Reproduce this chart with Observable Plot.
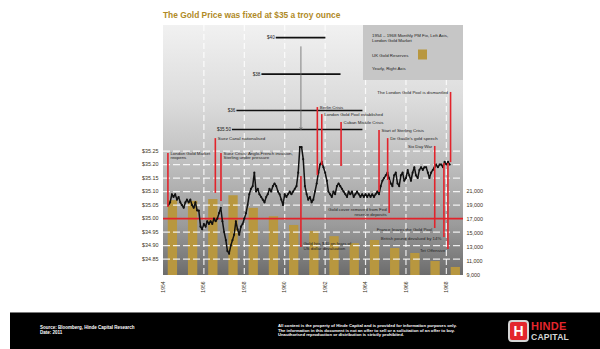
<!DOCTYPE html>
<html>
<head>
<meta charset="utf-8">
<script src="https://cdn.jsdelivr.net/npm/d3@7"></script>
<script src="https://cdn.jsdelivr.net/npm/@observablehq/plot@0.6"></script>
<style>
  body { margin: 0; background: #fff; font-family: "Liberation Sans", Arial, sans-serif; }
  #wrap { position: relative; width: 600px; height: 349px; overflow: hidden; }
  #title { position: absolute; left: 163px; top: 10px; font-size: 8.4px; font-weight: bold; color: #b08a26; white-space: nowrap; }
  #chart { position: absolute; left: 0; top: 0; }
  #footer { position: absolute; left: 10px; top: 312px; width: 590px; height: 37px; background: #000; border-top: 1px solid #7a7a7a; color: #fff; }
  #footer .src { position: absolute; left: 30px; top: 12px; font-size: 4.5px; line-height: 5px; font-weight: bold; }
  #footer .legal { position: absolute; left: 268px; top: 11px; width: 215px; font-size: 4.2px; line-height: 4.7px; font-weight: bold; }
  #footer .icon { position: absolute; left: 498px; top: 7px; width: 17px; height: 18px; background: #e3262d; border: 2px solid #d4d4d4; border-radius: 4px; color: #fff; font-weight: bold; font-size: 14px; line-height: 18px; text-align: center; }
  #footer .hinde { position: absolute; left: 521px; top: 7px; font-size: 11px; font-weight: bold; color: #e3262d; letter-spacing: 0.3px; }
  #footer .capital { position: absolute; left: 521px; top: 19px; font-size: 8.6px; font-weight: bold; color: #d6d6d6; letter-spacing: 0.2px; }
</style>
</head>
<body>
<div id="wrap">
  <div id="chart"></div>
  <div id="title">The Gold Price was fixed at $35 a troy ounce</div>
  <div id="footer">
    <div class="src">Source: Bloomberg, Hinde Capital Research<br>Date: 2011</div>
    <div class="legal">All content is the property of Hinde Capital and is provided for information purposes only.<br>The information in this document is not an offer to sell or a solicitation of an offer to buy.<br>Unauthorised reproduction or distribution is strictly prohibited.</div>
    <div class="icon">H</div>
    <div class="hinde">HINDE</div>
    <div class="capital">CAPITAL</div>
  </div>
</div>
<script>
// London PM gold fix, monthly, from the reopening of the market (April 1954) to March 1968
const fixStart = "1954-04-01";
const fixPrices = [
  /* 1954 */ 35.05, 35.06, 35.09, 35.08, 35.09, 35.07, 35.08, 35.06, 35.05,
  /* 1955 */ 35.04, 35.06, 35.07, 35.06, 35.07, 35.05, 35.04, 35.06, 35.03, 35.03, 34.97, 34.96,
  /* 1956 */ 34.98, 34.97, 34.99, 34.98, 34.99, 34.98, 35.00, 34.99, 35.00, 35.02, 35.04, 34.99,
  /* 1957 */ 34.95, 34.92, 34.88, 34.87, 34.90, 34.92, 34.94, 34.99, 34.96, 34.94, 34.97, 34.98,
  /* 1958 */ 35.00, 35.02, 35.05, 35.09, 35.11, 35.12, 35.17, 35.10, 35.11, 35.09, 35.08, 35.07,
  /* 1959 */ 35.06, 35.08, 35.09, 35.11, 35.10, 35.12, 35.13, 35.12, 35.10, 35.09, 35.07, 35.05,
  /* 1960 */ 35.09, 35.08, 35.09, 35.10, 35.09, 35.10, 35.11, 35.12, 35.17, 40.60, 35.45, 35.22,
  /* 1961 */ 35.12, 35.09, 35.07, 35.08, 35.06, 35.07, 35.10, 35.13, 35.17, 35.20, 35.21, 35.19,
  /* 1962 */ 35.17, 35.14, 35.10, 35.09, 35.08, 35.10, 35.09, 35.12, 35.13, 35.12, 35.11, 35.10,
  /* 1963 */ 35.09, 35.08, 35.10, 35.09, 35.10, 35.08, 35.09, 35.10, 35.09, 35.08, 35.09, 35.08,
  /* 1964 */ 35.09, 35.08, 35.09, 35.08, 35.09, 35.08, 35.09, 35.10, 35.09, 35.12, 35.14, 35.15,
  /* 1965 */ 35.16, 35.17, 35.15, 35.13, 35.12, 35.16, 35.17, 35.13, 35.12, 35.16, 35.17, 35.14,
  /* 1966 */ 35.15, 35.18, 35.16, 35.14, 35.17, 35.19, 35.16, 35.15, 35.18, 35.19, 35.18, 35.19,
  /* 1967 */ 35.19, 35.17, 35.15, 35.17, 35.18, 35.19, 35.20, 35.19, 35.20, 35.20, 35.19, 35.21,
  /* 1968 */ 35.20, 35.21, 35.20
];

// UK gold reserves, yearly (right axis)
const reserveYears = [1954, 1955, 1956, 1957, 1958, 1959, 1960, 1961, 1962, 1963, 1964, 1965, 1966, 1967, 1968];
const reserveValues = [19700, 19600, 19850, 20400, 18600, 17400, 16150, 15300, 14550, 13550, 14000, 12850, 12150, 11000, 10150];

// Axis ticks
const priceTicks = [34.85, 34.90, 34.95, 35.00, 35.05, 35.10, 35.15, 35.20, 35.25];
const reserveTicks = [9000, 11000, 13000, 15000, 17000, 19000, 21000];
const yearTicks = [1954, 1956, 1958, 1960, 1962, 1964, 1966, 1968];
const officialPrice = 35;

// Where the October 1960 spike went, on a compressed scale above the chart
const spikeDate = "1960-10-20";
const spikeLevels = [
  {label: "$40", level: 40, from: "1959-08-01", to: "1962-01-15"},
  {label: "$38", level: 38, from: "1958-11-15", to: "1962-10-15"},
  {label: "$36", level: 36, from: "1957-08-20", to: "1963-11-15"},
  {label: "$35.50", level: 35.5, from: "1957-06-01", to: "1963-11-15"}
];
const spikeArrow = {from: 39.5, to: 35.5};

// Events: leader runs between two price levels, label sits at one end
const events = [
  {date: "1954-03-22", text: "London Gold Market\nreopens", top: 35.241, bottom: 35.041, at: "top", align: "start"},
  {date: "1956-07-26", text: "Suez Canal nationalised", top: 35.296, bottom: 35.093, at: "top", align: "start"},
  {date: "1956-11-05", text: "Suez Crisis: Anglo-French invasion,\nSterling under pressure", top: 35.241, bottom: 35.063, at: "top", align: "start"},
  {date: "1960-10-20", text: "Gold hits $40 on fears of\nUS dollar devaluation", top: 35.156, bottom: 34.893, at: "bottom", align: "start"},
  {date: "1961-08-13", text: "Berlin Crisis", top: 35.411, bottom: 35.159, at: "top", align: "start"},
  {date: "1961-11-01", text: "London Gold Pool established", top: 35.385, bottom: 35.196, at: "top", align: "start"},
  {date: "1962-10-16", text: "Cuban Missile Crisis", top: 35.356, bottom: 35.193, at: "top", align: "start"},
  {date: "1964-09-01", text: "Start of Sterling Crisis", top: 35.326, bottom: 35.096, at: "top", align: "start"},
  {date: "1965-02-04", text: "De Gaulle's gold speech", top: 35.296, bottom: 35.141, at: "top", align: "start"},
  {date: "1965-03-03", text: "Gold cover removed from Fed\nreserve deposits", top: 35.141, bottom: 35.019, at: "bottom", align: "end"},
  {date: "1967-06-05", text: "Six Day War", top: 35.267, bottom: 35.204, at: "top", align: "end"},
  {date: "1967-06-05", text: "France leaves the Gold Pool", top: 35.204, bottom: 34.963, at: "bottom", align: "end"},
  {date: "1967-11-18", text: "British pound devalued by 14%", top: 35.204, bottom: 34.930, at: "bottom", align: "end"},
  {date: "1968-01-30", text: "Tet Offensive", top: 35.204, bottom: 34.885, at: "bottom", align: "end"},
  {date: "1968-03-17", text: "The London Gold Pool is dismantled", top: 35.467, bottom: 35.207, at: "top", align: "end"}
];

const gold = "#b8973f";
const red = "#e2232b";
const ink = "#222";
const font = "Liberation Sans, Arial, sans-serif";

const utc = (s) => new Date(s + "T00:00:00Z");
const yDomain = [34.789, 35.715];
const xDomain = [utc("1954-01-01"), utc("1968-11-06")];
const priceCeiling = 35.265; // the line is cut off where it leaves the visible price range

const fixSeries = fixPrices.map((p, i) => ({date: d3.utcMonth.offset(utc(fixStart), i), price: p}));
const reserves = reserveYears.map((year, i) => ({year, value: reserveValues[i]}));
const reserveToPrice = d3.scaleLinear().domain([9000, 21000]).range([yDomain[0], 35.1]);
const spikeScale = d3.scaleLinear().domain([35.5, 36, 40]).range([35.33, 35.40, 35.67]);
const yearDate = (y) => new Date(Date.UTC(y, 0, 1));
const clampY = (d) => Math.min(d.price, priceCeiling);

function background(index, scales, values, dims) {
  const g = d3.create("svg:g");
  const grad = g.append("defs").append("linearGradient")
    .attr("id", "plotbg").attr("x1", 0).attr("y1", 0).attr("x2", 0).attr("y2", 1);
  [[0, "#f1f1f1"], [0.3, "#dcdcdc"], [0.55, "#bfbfbf"], [0.8, "#9b9b9b"], [1, "#6c6c6c"]]
    .forEach(([o, c]) => grad.append("stop").attr("offset", o).attr("stop-color", c));
  g.append("rect")
    .attr("x", dims.marginLeft).attr("y", dims.marginTop)
    .attr("width", dims.width - dims.marginLeft - dims.marginRight)
    .attr("height", dims.height - dims.marginTop - dims.marginBottom)
    .attr("fill", "url(#plotbg)");
  return g.node();
}

function legendBox(index, scales, values, dims) {
  const g = d3.create("svg:g")
    .attr("font-family", font).attr("font-size", 4.4).attr("fill", ink).attr("text-anchor", "start");
  const w = 100, h = 55;
  const x0 = dims.width - dims.marginRight - w, y0 = dims.marginTop;
  g.append("rect").attr("x", x0).attr("y", y0).attr("width", w).attr("height", h).attr("fill", "#c6c6c6");
  const tx = x0 + 9;
  g.append("text").attr("x", tx).attr("y", y0 + 11.5).text("1954 \u2013 1968 Monthly PM Fix, Left Axis,");
  g.append("text").attr("x", tx).attr("y", y0 + 16.5).text("London Gold Market");
  g.append("text").attr("x", tx).attr("y", y0 + 32).text("UK Gold Reserves");
  g.append("rect").attr("x", x0 + 55).attr("y", y0 + 24.5).attr("width", 9).attr("height", 10).attr("fill", gold);
  g.append("text").attr("x", tx).attr("y", y0 + 44.5).text("Yearly, Right Axis");
  return g.node();
}

const labelMarks = [];
for (const at of ["top", "bottom"]) {
  for (const align of ["start", "end"]) {
    const subset = events.filter(e => e.at === at && e.align === align);
    if (!subset.length) continue;
    labelMarks.push(Plot.text(subset, {
      x: d => utc(d.date),
      y: d => d[at],
      text: "text",
      textAnchor: align,
      lineAnchor: at === "top" ? "top" : "bottom",
      dy: at === "top" ? -2.4 : 2.4,
      dx: align === "start" ? 2.5 : -2.5,
      lineHeight: 1.12,
      fontSize: 4.4,
      fill: ink
    }));
  }
}

const chart = Plot.plot({
  width: 600,
  height: 312,
  marginLeft: 163,
  marginRight: 137,
  marginTop: 25,
  marginBottom: 37,
  style: {fontFamily: font, background: "transparent", overflow: "visible"},
  x: {type: "utc", domain: xDomain},
  y: {domain: yDomain},
  marks: [
    background,
    Plot.ruleX(yearTicks.slice(1), {x: yearDate, stroke: "#fff", strokeOpacity: 0.85, strokeWidth: 1.2, strokeDasharray: "6,3"}),
    Plot.rect(reserves, {
      x1: d => new Date(Date.UTC(d.year, 2, 28)),
      x2: d => new Date(Date.UTC(d.year, 8, 12)),
      y1: yDomain[0],
      y2: d => reserveToPrice(d.value),
      fill: gold
    }),
    Plot.ruleY(priceTicks.filter(t => t !== officialPrice), {stroke: "#fff", strokeOpacity: 0.85, strokeWidth: 1.2, strokeDasharray: "7,3"}),
    Plot.ruleY([officialPrice], {stroke: red, strokeWidth: 1.8}),
    Plot.line(fixSeries, {x: "date", y: clampY, stroke: "#111", strokeWidth: 1.5}),
    Plot.dot(fixSeries, {x: "date", y: clampY, r: 1.05, fill: "#111"}),
    Plot.ruleY(spikeLevels, {y: d => spikeScale(d.level), x1: d => utc(d.from), x2: d => utc(d.to), stroke: "#111", strokeWidth: 1.6}),
    Plot.text(spikeLevels, {x: d => utc(d.from), y: d => spikeScale(d.level), text: "label", textAnchor: "end", dx: -1.5, fontSize: 4.6, fill: ink}),
    Plot.arrow([spikeDate], {
      x1: d => utc(d), x2: d => utc(d),
      y1: spikeScale(spikeArrow.from), y2: spikeScale(spikeArrow.to),
      stroke: "#666", strokeWidth: 0.8, headLength: 4
    }),
    Plot.ruleX(events, {x: d => utc(d.date), y1: "top", y2: "bottom", stroke: red, strokeWidth: 1.6}),
    ...labelMarks,
    Plot.axisY(priceTicks, {anchor: "left", tickSize: 0, tickPadding: 5, tickFormat: d => "$" + d.toFixed(2), fontSize: 5.4, fill: "#3a3220", label: null}),
    Plot.text(reserveTicks, {y: d => reserveToPrice(d), text: d => d3.format(",")(d), frameAnchor: "right", textAnchor: "start", dx: 3, fontSize: 5.4, fill: "#3a3220"}),
    Plot.axisX(yearTicks.map(yearDate), {tickSize: 0, tickPadding: 6, tickRotate: -90, tickFormat: d3.utcFormat("%Y"), fontSize: 5, fill: "#3a3220", label: null}),
    legendBox
  ]
});

document.getElementById("chart").append(chart);
</script>
</body>
</html>
